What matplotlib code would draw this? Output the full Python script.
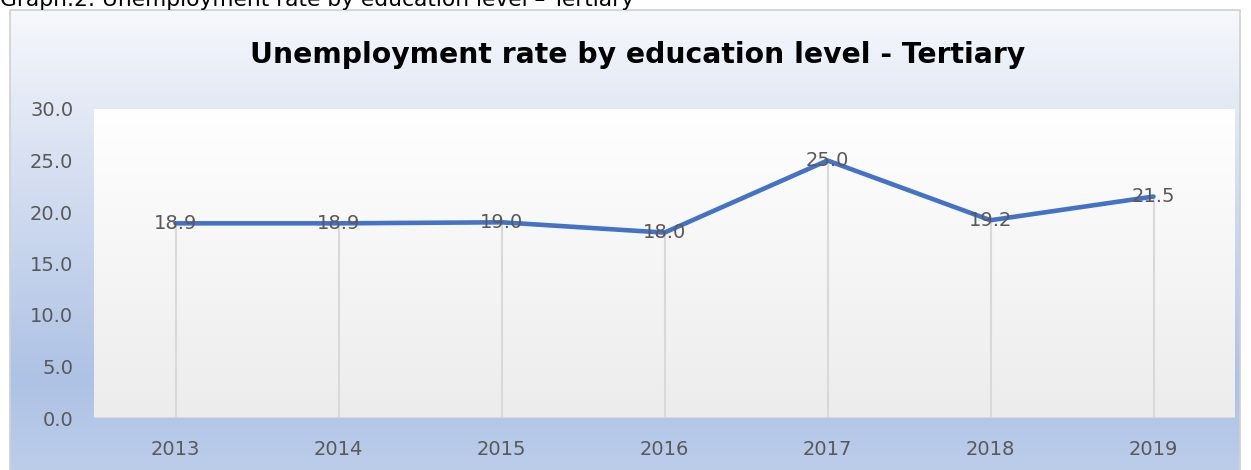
import numpy as np
import matplotlib.pyplot as plt
from matplotlib.colors import LinearSegmentedColormap

years = ['2013', '2014', '2015', '2016', '2017', '2018', '2019']
rate = [18.9, 18.9, 19.0, 18.0, 25.0, 19.2, 21.5]
yticks = [0, 5, 10, 15, 20, 25, 30]

W, H = 1251, 470
plt.rcParams['font.family'] = ['DejaVu Sans']
fig = plt.figure(figsize=(W / 100, H / 100), dpi=100)

# page background + chart frame with blue gradient
bg = fig.add_axes([0, 0, 1, 1])
bg.set_xlim(0, W)
bg.set_ylim(H, 0)
bg.axis('off')
frame_cmap = LinearSegmentedColormap.from_list(
    'frame', [(0, '#f6f8fc'), (0.25, '#dfe6f4'), (0.8, '#aec2e5'), (1, '#bccdea')])
grad = np.linspace(0, 1, 256).reshape(-1, 1)
bg.imshow(grad, cmap=frame_cmap, extent=[10, 1240, H + 2, 10], aspect='auto')
bg.plot([10, 10, 1240, 1240], [H + 2, 10, 10, H + 2], color='#d0d0d0', lw=1.2)

# document caption, cut off by the top edge
fig.text(0.0, 1 - 6.5 / H, 'Graph.2: Unemployment rate by education level \u2013 Tertiary',
         fontsize=15.7, va='baseline', ha='left', color='black')

# plot area
left, right, top, bottom = 94, 1235, 109, 418
ax = fig.add_axes([left / W, 1 - bottom / H, (right - left) / W, (bottom - top) / H])
area_cmap = LinearSegmentedColormap.from_list('area', ['#ffffff', '#ececec'])
ax.imshow(grad, cmap=area_cmap, extent=[-0.5, 6.5, 0, 30], aspect='auto', zorder=0)

x = np.arange(len(years))
ax.vlines(x, 0, rate, color='#d9d9d9', lw=1.5, zorder=1)
ax.plot(x, rate, color='#4472c4', lw=3.3, solid_capstyle='round', zorder=2)
for xi, v in zip(x, rate):
    ax.text(xi, v, f'{v:.1f}', ha='center', va='center', fontsize=14,
            color='#595959', zorder=3)

ax.set_xlim(-0.5, 6.5)
ax.set_ylim(0, 30)
ax.set_xticks(x)
ax.set_xticklabels(years)
ax.set_yticks(yticks)
ax.set_yticklabels([f'{t:.1f}' for t in yticks])
ax.tick_params(length=0, labelsize=14, labelcolor='#595959')
ax.tick_params(axis='x', pad=16)
ax.tick_params(axis='y', pad=15)
for s in ax.spines.values():
    s.set_visible(False)
ax.axhline(0, color='#d9d9d9', lw=1.5, zorder=1)

fig.text(638 / W, 1 - 55 / H, 'Unemployment rate by education level - Tertiary',
         fontsize=20.3, fontweight='bold', ha='center', va='center', color='black')

fig.savefig('out.png', dpi=100)
